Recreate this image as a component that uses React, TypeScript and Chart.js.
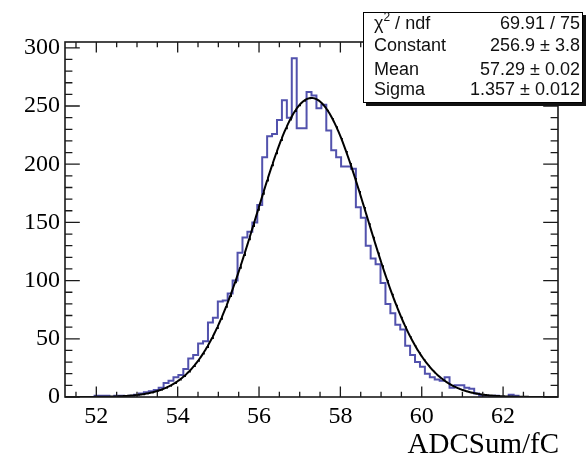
import React, { useEffect, useRef } from 'react';
import { Chart, registerables } from 'chart.js';

Chart.register(...registerables);

// Histogram definition (100 bins)
const binLow = 51.23;
const binHigh = 63.35;
const binCounts = [
  0, 0, 0, 0, 0, 0, 0, 1, 1, 1,
  0, 1, 1, 0, 1, 2, 3, 4, 5, 6,
  8, 12, 14, 17, 19, 24, 33, 36, 46, 48,
  64, 68, 82, 83, 89, 100, 124, 137, 142, 150,
  165, 206, 224, 226, 238, 255, 240, 291, 231, 231,
  262, 259, 248, 251, 229, 212, 206, 198, 198, 196,
  163, 154, 130, 119, 114, 98, 80, 72, 62, 58,
  44, 36, 30, 26, 20, 17, 15, 14, 17, 8,
  10, 10, 8, 7, 3, 1, 1, 0, 1, 0,
  0, 2, 1, 0, 0, 0, 0, 0, 0, 0,
];

const xTickValues = [52, 54, 56, 58, 60, 62];
const yTickValues = [0, 50, 100, 150, 200, 250, 300];
const yMax = 305;

// Fit result (gaus)
const fitConstant = 256.9;
const fitMean = 57.29;
const fitSigma = 1.357;

const statNames = ['χ2 / ndf', 'Constant', 'Mean', 'Sigma'];
const statValues = ['69.91 / 75', '256.9 ± 3.8', '57.29 ± 0.02', '1.357 ± 0.012'];
const xTitle = 'ADCSum/fC';

const W = 586;
const H = 462;

export default function App() {
  const ref = useRef<HTMLCanvasElement | null>(null);

  useEffect(() => {
    const canvas = ref.current;
    if (!canvas) return;
    const nb = binCounts.length;
    const bw = (binHigh - binLow) / nb;
    const histPts = binCounts.map((c, k) => ({ x: binLow + k * bw, y: c }));
    histPts.push({ x: binHigh, y: binCounts[nb - 1] });

    const fitPts: { x: number; y: number }[] = [];
    const nFit = 600;
    for (let i = 0; i <= nFit; i++) {
      const x = binLow + ((binHigh - binLow) * i) / nFit;
      const z = (x - fitMean) / fitSigma;
      fitPts.push({ x, y: fitConstant * Math.exp(-0.5 * z * z) });
    }

    const decor = {
      id: 'rootDecor',
      afterDraw(chart: any) {
        const ctx = chart.ctx as CanvasRenderingContext2D;
        const { left, right, top, bottom } = chart.chartArea;
        const xs = chart.scales.x;
        const ys = chart.scales.y;
        ctx.save();
        // frame
        ctx.strokeStyle = '#1a1a1a';
        ctx.lineWidth = 1.6;
        ctx.strokeRect(left, top, right - left, bottom - top);
        // ticks
        ctx.lineWidth = 1.3;
        ctx.beginPath();
        const xMajLen = 10.5, xMinLen = 5.3, yMajLen = 14.8, yMinLen = 7.4;
        for (let v = Math.ceil(binLow / 0.5) * 0.5; v <= binHigh + 1e-9; v += 0.5) {
          const px = xs.getPixelForValue(v);
          const isMaj = Math.abs(v / 2 - Math.round(v / 2)) < 1e-6;
          const len = isMaj ? xMajLen : xMinLen;
          ctx.moveTo(px, bottom);
          ctx.lineTo(px, bottom - len);
          ctx.moveTo(px, top);
          ctx.lineTo(px, top + len);
        }
        for (let v = 0; v <= yMax + 1e-9; v += 10) {
          const py = ys.getPixelForValue(v);
          const isMaj = v % 50 === 0;
          const len = isMaj ? yMajLen : yMinLen;
          ctx.moveTo(left, py);
          ctx.lineTo(left + len, py);
          ctx.moveTo(right, py);
          ctx.lineTo(right - len, py);
        }
        ctx.stroke();

        // axis title
        ctx.fillStyle = '#000';
        ctx.font = '29px "Liberation Serif"';
        ctx.textAlign = 'right';
        ctx.textBaseline = 'alphabetic';
        ctx.fillText(xTitle, right + 1, 453);

        // stats box
        const bx = 363, by = 12, bwid = 220, bh = 91;
        ctx.fillStyle = '#111';
        ctx.fillRect(bx + 3, by + 3, bwid, bh);
        ctx.fillStyle = '#fff';
        ctx.fillRect(bx, by, bwid, bh);
        ctx.strokeStyle = '#000';
        ctx.lineWidth = 1;
        ctx.strokeRect(bx + 0.5, by + 0.5, bwid - 1, bh - 1);
        const rowsY = [24, 46, 70, 90];
        ctx.fillStyle = '#111';
        ctx.textBaseline = 'middle';
        statNames.forEach((name, i) => {
          const y = rowsY[i];
          ctx.textAlign = 'left';
          ctx.font = '18px "Liberation Sans"';
          if (name.startsWith('χ2')) {
            ctx.fillText('χ', 374, y);
            let wx = 374 + ctx.measureText('χ').width;
            ctx.font = '12px "Liberation Sans"';
            ctx.fillText('2', wx, y - 6);
            wx += ctx.measureText('2').width;
            ctx.font = '18px "Liberation Sans"';
            ctx.fillText(name.slice(2), wx, y);
          } else {
            ctx.fillText(name, 374, y);
          }
          ctx.textAlign = 'right';
          ctx.fillText(statValues[i], 580, y);
        });
        ctx.restore();
      },
    };

    const chart = new Chart(canvas, {
      type: 'line',
      data: {
        datasets: [
          {
            label: 'fit',
            data: fitPts,
            borderColor: '#000',
            borderWidth: 2,
            pointRadius: 0,
            fill: false,
            tension: 0,
            order: 0,
          },
          {
            label: 'hist',
            data: histPts,
            borderColor: '#5252ad',
            borderWidth: 2,
            pointRadius: 0,
            fill: false,
            stepped: 'after',
            order: 1,
          },
        ],
      },
      options: {
        animation: false,
        responsive: false,
        devicePixelRatio: 1,
        layout: { padding: { left: 0, right: 28, top: 42, bottom: 0 } },
        plugins: { legend: { display: false }, tooltip: { enabled: false } },
        scales: {
          x: {
            type: 'linear',
            min: binLow,
            max: binHigh,
            afterBuildTicks: (s: any) => {
              s.ticks = xTickValues.map((v) => ({ value: v }));
            },
            afterFit: (s: any) => {
              s.height = 65;
            },
            grid: { display: false, drawTicks: false },
            border: { display: false },
            ticks: {
              autoSkip: false,
              maxRotation: 0,
              padding: 5,
              color: '#000',
              font: { family: '"Liberation Serif"', size: 24 },
              callback: (v: any) => String(v),
            },
          },
          y: {
            type: 'linear',
            min: 0,
            max: yMax,
            afterBuildTicks: (s: any) => {
              s.ticks = yTickValues.map((v) => ({ value: v }));
            },
            afterFit: (s: any) => {
              s.width = 65;
            },
            grid: { display: false, drawTicks: false },
            border: { display: false },
            ticks: {
              autoSkip: false,
              padding: 5,
              color: '#000',
              font: { family: '"Liberation Serif"', size: 24 },
              callback: (v: any) => String(v),
            },
          },
        },
      },
      plugins: [decor],
    });
    return () => chart.destroy();
  }, []);

  return (
    <div style={{ position: 'absolute', left: 0, top: 0, width: W, height: H, background: '#fff' }}>
      <canvas ref={ref} width={W} height={H} style={{ display: 'block', width: W, height: H }} />
    </div>
  );
}
